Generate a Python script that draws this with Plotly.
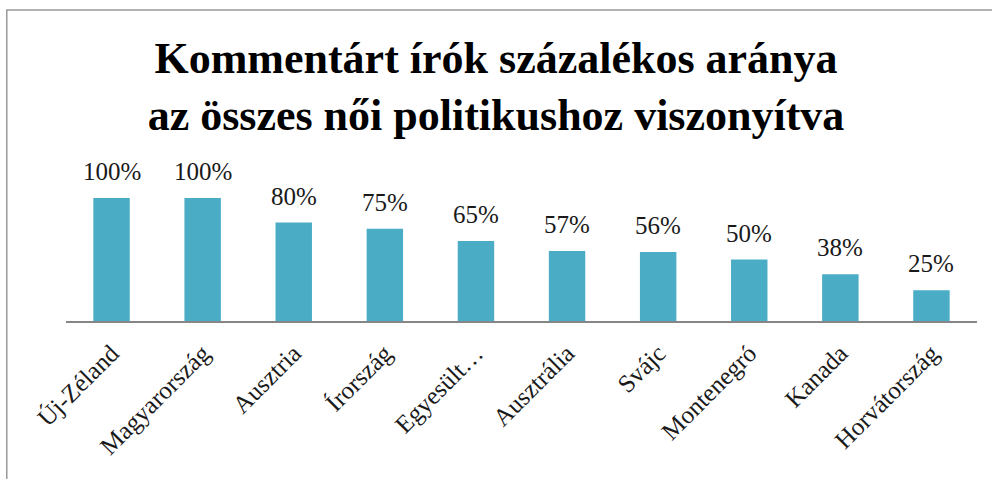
import plotly.graph_objects as go

countries = ['Új-Zéland', 'Magyarország', 'Ausztria', 'Írország', 'Egyesült…',
             'Ausztrália', 'Svájc', 'Montenegró', 'Kanada', 'Horvátország']
shares = [100, 100, 80, 75, 65, 57, 56, 50, 38, 25]
share_labels = ['100%', '100%', '80%', '75%', '65%', '57%', '56%', '50%', '38%', '25%']

serif = 'Liberation Serif, Times New Roman, serif'

fig = go.Figure()

fig.add_trace(go.Bar(
    x=countries,
    y=shares,
    marker=dict(color='#4bacc6', line=dict(width=0)),
    width=0.4,
    cliponaxis=False
))

# value labels sit a bit higher above the bars than plotly's outside text
for c, v, lab in zip(countries, shares, share_labels):
    fig.add_annotation(
        x=c, y=v, text=lab, showarrow=False,
        yanchor='bottom', yshift=11,
        font=dict(family=serif, size=25, color='#1a1a1a')
    )

fig.update_layout(
    width=992,
    height=479,
    margin=dict(l=66, r=15, t=160, b=158, autoexpand=False),
    paper_bgcolor='white',
    plot_bgcolor='white',
    showlegend=False,
    title=dict(
        text='Kommentárt írók százalékos aránya<br>az összes női politikushoz viszonyítva',
        font=dict(family=serif, size=44, color='black', weight='bold'),
        x=0.5, xanchor='center',
        xref='container',
        yref='container', y=0.848, yanchor='top'
    ),
    xaxis=dict(
        tickangle=-45,
        tickfont=dict(family=serif, size=25, color='#1a1a1a'),
        showline=True, linecolor='#868686', linewidth=1.5,
        ticks='', automargin=False, ticklabelstandoff=6
    ),
    yaxis=dict(
        range=[0, 130.9],
        visible=False,
        showgrid=False,
        automargin=False
    ),
    shapes=[dict(
        type='rect', xref='paper', yref='paper',
        x0=-0.065, x1=1.03, y0=-1.2, y1=1.932,
        line=dict(color='#9a9a9a', width=1.5)
    )]
)

fig.write_html("out.html", config={'displayModeBar': False},
               post_script="document.body.style.margin='0';")
